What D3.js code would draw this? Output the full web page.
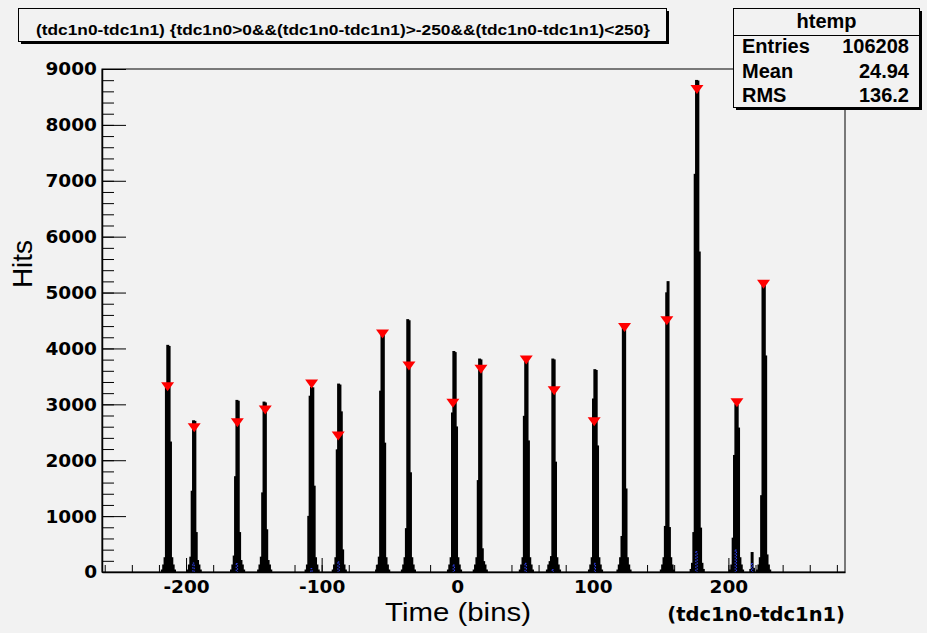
<!DOCTYPE html>
<html>
  <head>
    <meta charset="utf-8" />
    <title>htemp</title>
    <script src="https://d3js.org/d3.v7.min.js"></script>
    <style>
        body {
            margin: 0;
            background: #f2f2f2;
        }
        svg {
            display: block;
        }
        .tick text {
            font-family: "DejaVu Sans";
            font-weight: bold;
            font-size: 18.5px;
            fill: #000;
        }
    </style>
  </head>
  <body>
    <svg id="chart"></svg>

    <script>
        // first bin of every peak (1 unit per bin) and the counts from there on
        var peakStart = [-218, -199, -167, -147, -112, -92, -60, -41, -7, 12, 46, 66, 97, 118, 150, 172, 201, 213, 221];
        var peakCounts = [
            [30, 120, 250, 3300, 4050, 4030, 2320, 250, 120, 30],
            [30, 120, 260, 1440, 2700, 2690, 700, 200, 120, 30],
            [30, 120, 280, 1700, 3065, 3050, 700, 200, 120, 30],
            [30, 120, 260, 1410, 3035, 3020, 750, 200, 120, 30],
            [30, 120, 990, 3140, 3300, 3290, 1530, 250, 120, 30],
            [30, 120, 250, 2180, 3357, 3340, 2860, 390, 120, 30],
            [30, 120, 260, 3230, 4270, 4250, 2300, 250, 120, 30],
            [30, 120, 250, 770, 4510, 4490, 1770, 250, 120, 30],
            [30, 120, 250, 2840, 3940, 3920, 2590, 250, 120, 30],
            [30, 120, 250, 1630, 3805, 3790, 410, 180, 120, 30],
            [30, 120, 250, 2780, 3770, 3760, 2340, 250, 120, 30],
            [30, 120, 180, 270, 3805, 3790, 1960, 250, 120, 30],
            [30, 120, 250, 3090, 3615, 3600, 2250, 250, 120, 30],
            [30, 120, 250, 630, 4440, 4420, 1480, 250, 120, 30],
            [30, 120, 250, 810, 4990, 5190, 790, 250, 120, 30],
            [40, 150, 700, 7110, 8790, 8780, 5720, 780, 150, 40],
            [30, 120, 600, 2080, 2990, 2980, 2570, 250, 120, 30],
            [0, 0, 0, 40, 343, 60, 0, 0, 0, 0],
            [30, 120, 250, 1360, 5150, 5140, 3860, 300, 120, 30]
        ];

        // found peaks (red markers)
        var markerX = [-213.6, -194, -162.2, -141.6, -107.4, -87.8, -55.1, -35.6, -3.2, 17.5, 50.9, 71.5, 101, 123.4, 154.6, 176.8, 206.3, 225.9];
        var markerY = [3315, 2582, 2671, 2898, 3363, 2433, 4258, 3685, 3018, 3626, 3793, 3243, 2689, 4376, 4496, 8632, 3029, 5149];

        // second (blue dotted) histogram
        var blueBins = [-195, -163, -108, -88, -3, 50, 70, 101, 176, 205, 217];
        var blueCounts = [160, 150, 60, 180, 125, 155, 40, 155, 363, 394, 150];

        var xTicks = [-200, -100, 0, 100, 200];
        var yTicks = [0, 1000, 2000, 3000, 4000, 5000, 6000, 7000, 8000, 9000];
        var statLabels = ["Entries", "Mean", "RMS"];
        var statValues = ["106208", "24.94", "136.2"];
        var title = "(tdc1n0-tdc1n1) {tdc1n0>0&&(tdc1n0-tdc1n1)>-250&&(tdc1n0-tdc1n1)<250}";

        var width = 927;
        var height = 633;
        var margin = {top: 69, right: 82, bottom: 61, left: 102};

        var svg = d3.select("#chart")
            .attr("width", width)
            .attr("height", height);

        svg.append("rect")
            .attr("width", width)
            .attr("height", height)
            .attr("fill", "#f2f2f2");

        var x = d3.scaleLinear()
            .domain([-262, 286])
            .range([margin.left, width - margin.right]);

        var y = d3.scaleLinear()
            .domain([0, 9000])
            .range([height - margin.bottom, margin.top]);

        // frame
        svg.append("rect")
            .attr("x", margin.left)
            .attr("y", margin.top)
            .attr("width", width - margin.left - margin.right)
            .attr("height", height - margin.top - margin.bottom)
            .attr("fill", "none")
            .attr("stroke", "#000")
            .attr("stroke-width", 1);

        // histogram bins
        var bins = [];
        peakCounts.forEach(function(counts, p) {
            counts.forEach(function(c, i) {
                if (c > 0) bins.push({bin: peakStart[p] + i, count: c});
            });
        });

        svg.append("g").selectAll("rect")
            .data(bins)
            .enter().append("rect")
            .attr("x", function(d) { return x(d.bin); })
            .attr("width", function(d) { return x(d.bin + 1) - x(d.bin); })
            .attr("y", function(d) { return y(d.count); })
            .attr("height", function(d) { return y(0) - y(d.count); })
            .attr("fill", "#000")
            .attr("stroke", "#000")
            .attr("stroke-width", 1.6);

        svg.append("g").selectAll("rect")
            .data(blueBins)
            .enter().append("rect")
            .attr("x", function(d) { return x(d); })
            .attr("width", function(d) { return x(d + 1) - x(d); })
            .attr("y", function(d, i) { return y(blueCounts[i]); })
            .attr("height", function(d, i) { return y(0) - y(blueCounts[i]); })
            .attr("fill", "none")
            .attr("stroke", "#3344ff")
            .attr("stroke-width", 1)
            .attr("stroke-dasharray", "1.5,1.5");

        svg.append("g").selectAll("path")
            .data(markerX)
            .enter().append("path")
            .attr("d", "M-6.5,-4.5L6.5,-4.5L0,4.5Z")
            .attr("transform", function(d, i) {
                return "translate(" + x(d) + "," + y(markerY[i]) + ")";
            })
            .attr("fill", "#ff0000");

        // axes: ticks point into the frame
        var xAxis = d3.axisBottom(x)
            .tickValues(xTicks)
            .tickFormat(function(d) { return String(d); })
            .tickSizeInner(-14)
            .tickSizeOuter(0)
            .tickPadding(8);
        svg.append("g")
            .attr("transform", "translate(0," + y(0) + ")")
            .call(xAxis)
            .call(function(g) { g.select(".domain").attr("stroke-width", 1.5); });

        var xMinor = d3.axisBottom(x)
            .tickValues(d3.range(-260, 286, 20))
            .tickSizeInner(-7)
            .tickSizeOuter(0)
            .tickFormat("");
        svg.append("g")
            .attr("transform", "translate(0," + y(0) + ")")
            .call(xMinor)
            .call(function(g) { g.select(".domain").remove(); });

        var yAxis = d3.axisLeft(y)
            .tickValues(yTicks)
            .tickFormat(function(d) { return String(d); })
            .tickSizeInner(-24)
            .tickSizeOuter(0)
            .tickPadding(5);
        svg.append("g")
            .attr("transform", "translate(" + margin.left + ",0)")
            .call(yAxis)
            .call(function(g) { g.select(".domain").attr("stroke-width", 1.5); });

        var yMinor = d3.axisLeft(y)
            .tickValues(d3.range(0, 9001, 200))
            .tickSizeInner(-12)
            .tickSizeOuter(0)
            .tickFormat("");
        svg.append("g")
            .attr("transform", "translate(" + margin.left + ",0)")
            .call(yMinor)
            .call(function(g) { g.select(".domain").remove(); });

        // axis titles
        svg.append("text")
            .attr("x", 458)
            .attr("y", 621)
            .attr("text-anchor", "middle")
            .attr("font-family", "Liberation Sans")
            .attr("font-size", 25)
            .attr("textLength", 146)
            .attr("lengthAdjust", "spacingAndGlyphs")
            .text("Time (bins)");

        svg.append("text")
            .attr("transform", "translate(32,264) rotate(-90)")
            .attr("text-anchor", "middle")
            .attr("font-family", "Liberation Sans")
            .attr("font-size", 28)
            .text("Hits");

        svg.append("text")
            .attr("x", width - margin.right)
            .attr("y", 621)
            .attr("text-anchor", "end")
            .attr("font-family", "DejaVu Sans")
            .attr("font-weight", "bold")
            .attr("font-size", 19.5)
            .text("(tdc1n0-tdc1n1)");

        // boxes with a drop shadow
        function paveBox(bx, by, bw, bh) {
            svg.append("rect")
                .attr("x", bx + 2.5).attr("y", by + 2.5)
                .attr("width", bw).attr("height", bh)
                .attr("fill", "#000");
            svg.append("rect")
                .attr("x", bx).attr("y", by)
                .attr("width", bw).attr("height", bh)
                .attr("fill", "#f2f2f2")
                .attr("stroke", "#000")
                .attr("stroke-width", 1);
        }

        paveBox(18.5, 8.5, 648, 33);
        svg.append("text")
            .attr("x", 36)
            .attr("y", 35)
            .attr("font-family", "Liberation Sans")
            .attr("font-weight", "bold")
            .attr("font-size", 15)
            .attr("textLength", 614)
            .attr("lengthAdjust", "spacingAndGlyphs")
            .text(title);

        // stats box
        paveBox(733.5, 8.5, 186, 99);
        svg.append("line")
            .attr("x1", 733.5).attr("x2", 919.5)
            .attr("y1", 35.5).attr("y2", 35.5)
            .attr("stroke", "#000");
        svg.append("text")
            .attr("x", 826.5)
            .attr("y", 28)
            .attr("text-anchor", "middle")
            .attr("font-family", "Liberation Sans")
            .attr("font-weight", "bold")
            .attr("font-size", 20)
            .text("htemp");

        var rows = svg.append("g")
            .attr("font-family", "Liberation Sans")
            .attr("font-weight", "bold")
            .attr("font-size", 20);
        statLabels.forEach(function(label, i) {
            var by = 53 + i * 24.5;
            rows.append("text").attr("x", 742).attr("y", by).text(label);
            rows.append("text").attr("x", 909).attr("y", by)
                .attr("text-anchor", "end").text(statValues[i]);
        });
    </script>
  </body>
</html>
